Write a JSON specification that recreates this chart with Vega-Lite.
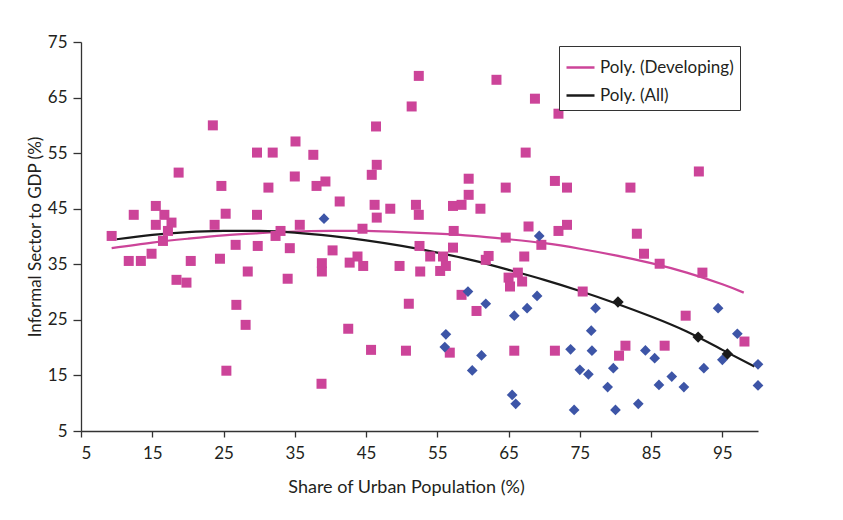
{
  "$schema": "https://vega.github.io/schema/vega-lite/v6.json",
  "width": 677,
  "height": 389,
  "autosize": {"type": "none"},
  "padding": {"left": 81, "top": 42, "right": 85, "bottom": 89},
  "background": "white",
  "config": {
    "view": {"stroke": null},
    "font": "Lato",
    "axis": {
      "grid": false,
      "domainColor": "#333333",
      "domainWidth": 1.3,
      "tickColor": "#333333",
      "tickWidth": 1.3,
      "labelFont": "Lato",
      "labelFontSize": 17,
      "labelColor": "#231f20",
      "titleFont": "Lato",
      "titleFontWeight": "normal",
      "titleColor": "#231f20"
    }
  },
  "datasets": {
    "points": [
      {"urban": 9.3, "informal": 40.1, "group": "Developing"},
      {"urban": 11.7, "informal": 35.6, "group": "Developing"},
      {"urban": 12.4, "informal": 43.9, "group": "Developing"},
      {"urban": 13.4, "informal": 35.6, "group": "Developing"},
      {"urban": 14.9, "informal": 36.9, "group": "Developing"},
      {"urban": 15.5, "informal": 45.5, "group": "Developing"},
      {"urban": 15.5, "informal": 42.1, "group": "Developing"},
      {"urban": 16.5, "informal": 39.2, "group": "Developing"},
      {"urban": 16.7, "informal": 43.9, "group": "Developing"},
      {"urban": 17.2, "informal": 41.0, "group": "Developing"},
      {"urban": 17.7, "informal": 42.5, "group": "Developing"},
      {"urban": 18.7, "informal": 51.5, "group": "Developing"},
      {"urban": 18.4, "informal": 32.2, "group": "Developing"},
      {"urban": 19.8, "informal": 31.7, "group": "Developing"},
      {"urban": 20.4, "informal": 35.6, "group": "Developing"},
      {"urban": 23.5, "informal": 60.0, "group": "Developing"},
      {"urban": 23.75, "informal": 42.1, "group": "Developing"},
      {"urban": 24.5, "informal": 36.0, "group": "Developing"},
      {"urban": 24.7, "informal": 49.1, "group": "Developing"},
      {"urban": 25.3, "informal": 44.1, "group": "Developing"},
      {"urban": 25.4, "informal": 15.85, "group": "Developing"},
      {"urban": 26.7, "informal": 38.5, "group": "Developing"},
      {"urban": 26.8, "informal": 27.7, "group": "Developing"},
      {"urban": 28.1, "informal": 24.1, "group": "Developing"},
      {"urban": 28.4, "informal": 33.7, "group": "Developing"},
      {"urban": 29.7, "informal": 55.1, "group": "Developing"},
      {"urban": 29.7, "informal": 43.9, "group": "Developing"},
      {"urban": 29.8, "informal": 38.3, "group": "Developing"},
      {"urban": 31.3, "informal": 48.8, "group": "Developing"},
      {"urban": 31.9, "informal": 55.1, "group": "Developing"},
      {"urban": 32.3, "informal": 40.1, "group": "Developing"},
      {"urban": 33.0, "informal": 41.0, "group": "Developing"},
      {"urban": 34.0, "informal": 32.4, "group": "Developing"},
      {"urban": 34.3, "informal": 37.9, "group": "Developing"},
      {"urban": 35.0, "informal": 50.8, "group": "Developing"},
      {"urban": 35.1, "informal": 57.1, "group": "Developing"},
      {"urban": 35.7, "informal": 42.1, "group": "Developing"},
      {"urban": 37.6, "informal": 54.7, "group": "Developing"},
      {"urban": 38.05, "informal": 49.1, "group": "Developing"},
      {"urban": 38.8, "informal": 35.2, "group": "Developing"},
      {"urban": 38.8, "informal": 33.7, "group": "Developing"},
      {"urban": 38.75, "informal": 13.5, "group": "Developing"},
      {"urban": 39.3, "informal": 49.9, "group": "Developing"},
      {"urban": 40.3, "informal": 37.5, "group": "Developing"},
      {"urban": 41.3, "informal": 46.3, "group": "Developing"},
      {"urban": 42.5, "informal": 23.4, "group": "Developing"},
      {"urban": 42.7, "informal": 35.3, "group": "Developing"},
      {"urban": 43.8, "informal": 36.4, "group": "Developing"},
      {"urban": 44.5, "informal": 41.4, "group": "Developing"},
      {"urban": 44.6, "informal": 34.7, "group": "Developing"},
      {"urban": 45.7, "informal": 19.6, "group": "Developing"},
      {"urban": 45.8, "informal": 51.1, "group": "Developing"},
      {"urban": 46.2, "informal": 45.7, "group": "Developing"},
      {"urban": 46.4, "informal": 59.8, "group": "Developing"},
      {"urban": 46.5, "informal": 52.9, "group": "Developing"},
      {"urban": 46.5, "informal": 43.4, "group": "Developing"},
      {"urban": 48.4, "informal": 45.0, "group": "Developing"},
      {"urban": 49.7, "informal": 34.7, "group": "Developing"},
      {"urban": 50.6, "informal": 19.45, "group": "Developing"},
      {"urban": 51.0, "informal": 27.9, "group": "Developing"},
      {"urban": 51.4, "informal": 63.4, "group": "Developing"},
      {"urban": 52.0, "informal": 45.7, "group": "Developing"},
      {"urban": 52.4, "informal": 43.9, "group": "Developing"},
      {"urban": 52.4, "informal": 68.9, "group": "Developing"},
      {"urban": 52.5, "informal": 38.3, "group": "Developing"},
      {"urban": 52.6, "informal": 33.7, "group": "Developing"},
      {"urban": 54.0, "informal": 36.4, "group": "Developing"},
      {"urban": 55.4, "informal": 33.8, "group": "Developing"},
      {"urban": 55.8, "informal": 36.4, "group": "Developing"},
      {"urban": 56.2, "informal": 34.7, "group": "Developing"},
      {"urban": 56.75, "informal": 19.1, "group": "Developing"},
      {"urban": 57.2, "informal": 45.5, "group": "Developing"},
      {"urban": 58.4, "informal": 45.7, "group": "Developing"},
      {"urban": 59.4, "informal": 47.5, "group": "Developing"},
      {"urban": 59.4, "informal": 50.4, "group": "Developing"},
      {"urban": 57.3, "informal": 41.0, "group": "Developing"},
      {"urban": 57.2, "informal": 38.0, "group": "Developing"},
      {"urban": 58.4, "informal": 29.5, "group": "Developing"},
      {"urban": 60.5, "informal": 26.6, "group": "Developing"},
      {"urban": 61.05, "informal": 45.0, "group": "Developing"},
      {"urban": 61.8, "informal": 35.8, "group": "Developing"},
      {"urban": 62.2, "informal": 36.5, "group": "Developing"},
      {"urban": 63.3, "informal": 68.2, "group": "Developing"},
      {"urban": 64.6, "informal": 48.8, "group": "Developing"},
      {"urban": 64.6, "informal": 39.8, "group": "Developing"},
      {"urban": 65.0, "informal": 32.6, "group": "Developing"},
      {"urban": 65.2, "informal": 31.0, "group": "Developing"},
      {"urban": 65.8, "informal": 19.45, "group": "Developing"},
      {"urban": 66.3, "informal": 33.5, "group": "Developing"},
      {"urban": 66.9, "informal": 31.9, "group": "Developing"},
      {"urban": 67.2, "informal": 36.4, "group": "Developing"},
      {"urban": 67.4, "informal": 55.1, "group": "Developing"},
      {"urban": 67.8, "informal": 41.8, "group": "Developing"},
      {"urban": 68.7, "informal": 64.8, "group": "Developing"},
      {"urban": 69.6, "informal": 38.5, "group": "Developing"},
      {"urban": 71.5, "informal": 50.0, "group": "Developing"},
      {"urban": 72.0, "informal": 62.1, "group": "Developing"},
      {"urban": 72.0, "informal": 41.0, "group": "Developing"},
      {"urban": 73.2, "informal": 48.8, "group": "Developing"},
      {"urban": 73.2, "informal": 42.1, "group": "Developing"},
      {"urban": 71.5, "informal": 19.45, "group": "Developing"},
      {"urban": 75.4, "informal": 30.1, "group": "Developing"},
      {"urban": 80.5, "informal": 18.55, "group": "Developing"},
      {"urban": 81.4, "informal": 20.35, "group": "Developing"},
      {"urban": 82.1, "informal": 48.8, "group": "Developing"},
      {"urban": 83.0, "informal": 40.5, "group": "Developing"},
      {"urban": 84.0, "informal": 36.9, "group": "Developing"},
      {"urban": 86.2, "informal": 35.1, "group": "Developing"},
      {"urban": 86.9, "informal": 20.35, "group": "Developing"},
      {"urban": 89.85, "informal": 25.75, "group": "Developing"},
      {"urban": 91.7, "informal": 51.7, "group": "Developing"},
      {"urban": 92.2, "informal": 33.5, "group": "Developing"},
      {"urban": 98.1, "informal": 21.1, "group": "Developing"},
      {"urban": 39.1, "informal": 43.2, "group": "Developed"},
      {"urban": 56.2, "informal": 22.4, "group": "Developed"},
      {"urban": 56.05, "informal": 20.1, "group": "Developed"},
      {"urban": 59.3, "informal": 30.1, "group": "Developed"},
      {"urban": 59.9, "informal": 15.9, "group": "Developed"},
      {"urban": 61.2, "informal": 18.6, "group": "Developed"},
      {"urban": 61.8, "informal": 27.9, "group": "Developed"},
      {"urban": 65.5, "informal": 11.5, "group": "Developed"},
      {"urban": 65.8, "informal": 25.75, "group": "Developed"},
      {"urban": 66.0, "informal": 9.9, "group": "Developed"},
      {"urban": 67.6, "informal": 27.1, "group": "Developed"},
      {"urban": 69.0, "informal": 29.3, "group": "Developed"},
      {"urban": 69.3, "informal": 40.1, "group": "Developed"},
      {"urban": 73.7, "informal": 19.7, "group": "Developed"},
      {"urban": 74.2, "informal": 8.8, "group": "Developed"},
      {"urban": 75.0, "informal": 16.0, "group": "Developed"},
      {"urban": 76.2, "informal": 15.2, "group": "Developed"},
      {"urban": 76.6, "informal": 23.05, "group": "Developed"},
      {"urban": 76.7, "informal": 19.45, "group": "Developed"},
      {"urban": 77.2, "informal": 27.1, "group": "Developed"},
      {"urban": 78.9, "informal": 12.9, "group": "Developed"},
      {"urban": 79.7, "informal": 16.3, "group": "Developed"},
      {"urban": 80.0, "informal": 8.8, "group": "Developed"},
      {"urban": 83.2, "informal": 9.9, "group": "Developed"},
      {"urban": 84.2, "informal": 19.5, "group": "Developed"},
      {"urban": 85.5, "informal": 18.1, "group": "Developed"},
      {"urban": 86.1, "informal": 13.3, "group": "Developed"},
      {"urban": 87.9, "informal": 14.8, "group": "Developed"},
      {"urban": 89.6, "informal": 12.9, "group": "Developed"},
      {"urban": 92.4, "informal": 16.3, "group": "Developed"},
      {"urban": 94.4, "informal": 27.1, "group": "Developed"},
      {"urban": 95.0, "informal": 17.8, "group": "Developed"},
      {"urban": 97.1, "informal": 22.5, "group": "Developed"},
      {"urban": 100.0, "informal": 17.0, "group": "Developed"},
      {"urban": 100.0, "informal": 13.2, "group": "Developed"},
      {"urban": 80.35, "informal": 28.2, "group": "Highlighted"},
      {"urban": 91.6, "informal": 21.9, "group": "Highlighted"},
      {"urban": 95.7, "informal": 18.85, "group": "Highlighted"}
    ],
    "trends": [
      {"series": "Poly. (Developing)", "urban": 9.3, "informal": 37.9},
      {"series": "Poly. (Developing)", "urban": 15, "informal": 38.9},
      {"series": "Poly. (Developing)", "urban": 20, "informal": 39.6},
      {"series": "Poly. (Developing)", "urban": 25, "informal": 40.2},
      {"series": "Poly. (Developing)", "urban": 30, "informal": 40.6},
      {"series": "Poly. (Developing)", "urban": 35, "informal": 40.9},
      {"series": "Poly. (Developing)", "urban": 40, "informal": 41.0},
      {"series": "Poly. (Developing)", "urban": 45, "informal": 41.0},
      {"series": "Poly. (Developing)", "urban": 50, "informal": 40.8},
      {"series": "Poly. (Developing)", "urban": 55, "informal": 40.5},
      {"series": "Poly. (Developing)", "urban": 60, "informal": 40.1},
      {"series": "Poly. (Developing)", "urban": 65, "informal": 39.5},
      {"series": "Poly. (Developing)", "urban": 70, "informal": 38.8},
      {"series": "Poly. (Developing)", "urban": 75, "informal": 37.8},
      {"series": "Poly. (Developing)", "urban": 80, "informal": 36.6},
      {"series": "Poly. (Developing)", "urban": 85, "informal": 35.2},
      {"series": "Poly. (Developing)", "urban": 90, "informal": 33.5},
      {"series": "Poly. (Developing)", "urban": 95, "informal": 31.4},
      {"series": "Poly. (Developing)", "urban": 98, "informal": 29.9},
      {"series": "Poly. (All)", "urban": 10, "informal": 39.5},
      {"series": "Poly. (All)", "urban": 15, "informal": 40.3},
      {"series": "Poly. (All)", "urban": 20, "informal": 40.8},
      {"series": "Poly. (All)", "urban": 25, "informal": 41.0},
      {"series": "Poly. (All)", "urban": 30, "informal": 41.0},
      {"series": "Poly. (All)", "urban": 35, "informal": 40.7},
      {"series": "Poly. (All)", "urban": 40, "informal": 40.1},
      {"series": "Poly. (All)", "urban": 45, "informal": 39.3},
      {"series": "Poly. (All)", "urban": 50, "informal": 38.3},
      {"series": "Poly. (All)", "urban": 55, "informal": 37.1},
      {"series": "Poly. (All)", "urban": 60, "informal": 35.7},
      {"series": "Poly. (All)", "urban": 65, "informal": 34.0},
      {"series": "Poly. (All)", "urban": 70, "informal": 32.2},
      {"series": "Poly. (All)", "urban": 75, "informal": 30.2},
      {"series": "Poly. (All)", "urban": 80, "informal": 28.0},
      {"series": "Poly. (All)", "urban": 85, "informal": 25.6},
      {"series": "Poly. (All)", "urban": 90, "informal": 22.9},
      {"series": "Poly. (All)", "urban": 95, "informal": 19.6},
      {"series": "Poly. (All)", "urban": 99.5, "informal": 16.6}
    ]
  },
  "encoding": {
    "x": {
      "field": "urban",
      "type": "quantitative",
      "scale": {"domain": [5, 100], "nice": false, "zero": false},
      "axis": {
        "title": "Share of Urban Population (%)",
        "values": [5, 15, 25, 35, 45, 55, 65, 75, 85, 95],
        "tickSize": 6,
        "labelPadding": 8,
        "titleFontSize": 18,
        "titleX": 325,
        "titleY": 56,
        "titleAlign": "center",
        "titleBaseline": "middle"
      }
    },
    "y": {
      "field": "informal",
      "type": "quantitative",
      "scale": {"domain": [5, 75], "nice": false, "zero": false},
      "axis": {
        "title": "Informal Sector to GDP (%)",
        "values": [5, 15, 25, 35, 45, 55, 65, 75],
        "tickSize": 8,
        "labelPadding": 6,
        "titleFontSize": 17,
        "titleX": -46,
        "titleY": 194.5,
        "titleAngle": -90,
        "titleAlign": "center",
        "titleBaseline": "middle"
      }
    }
  },
  "layer": [
    {
      "data": {"name": "trends"},
      "mark": {"type": "line", "strokeWidth": 2.2, "interpolate": "natural", "clip": false},
      "encoding": {
        "color": {
          "field": "series",
          "type": "nominal",
          "scale": {"domain": ["Poly. (Developing)", "Poly. (All)"], "range": ["#cc4499", "#1a1a1a"]},
          "legend": {
            "title": null,
            "orient": "none",
            "legendX": 478,
            "legendY": 4,
            "symbolType": "stroke",
            "symbolSize": 784,
            "symbolStrokeWidth": 2.5,
            "labelFont": "Lato",
            "labelFontSize": 17,
            "labelColor": "#231f20",
            "labelOffset": 4,
            "rowPadding": 4,
            "padding": 6,
            "strokeColor": "#333333",
            "fillColor": "white"
          }
        }
      }
    },
    {
      "data": {"name": "points"},
      "mark": {"type": "point", "filled": true, "opacity": 1, "clip": false},
      "encoding": {
        "shape": {
          "field": "group",
          "type": "nominal",
          "scale": {"domain": ["Developing", "Developed", "Highlighted"], "range": ["square", "diamond", "diamond"]},
          "legend": null
        },
        "fill": {
          "field": "group",
          "type": "nominal",
          "scale": {"domain": ["Developing", "Developed", "Highlighted"], "range": ["#cc4499", "#3d55a7", "#1a1a1a"]},
          "legend": null
        },
        "size": {
          "field": "group",
          "type": "nominal",
          "scale": {"domain": ["Developing", "Developed", "Highlighted"], "range": [100, 130, 130]},
          "legend": null
        }
      }
    }
  ],
  "resolve": {"scale": {"color": "independent"}}
}
